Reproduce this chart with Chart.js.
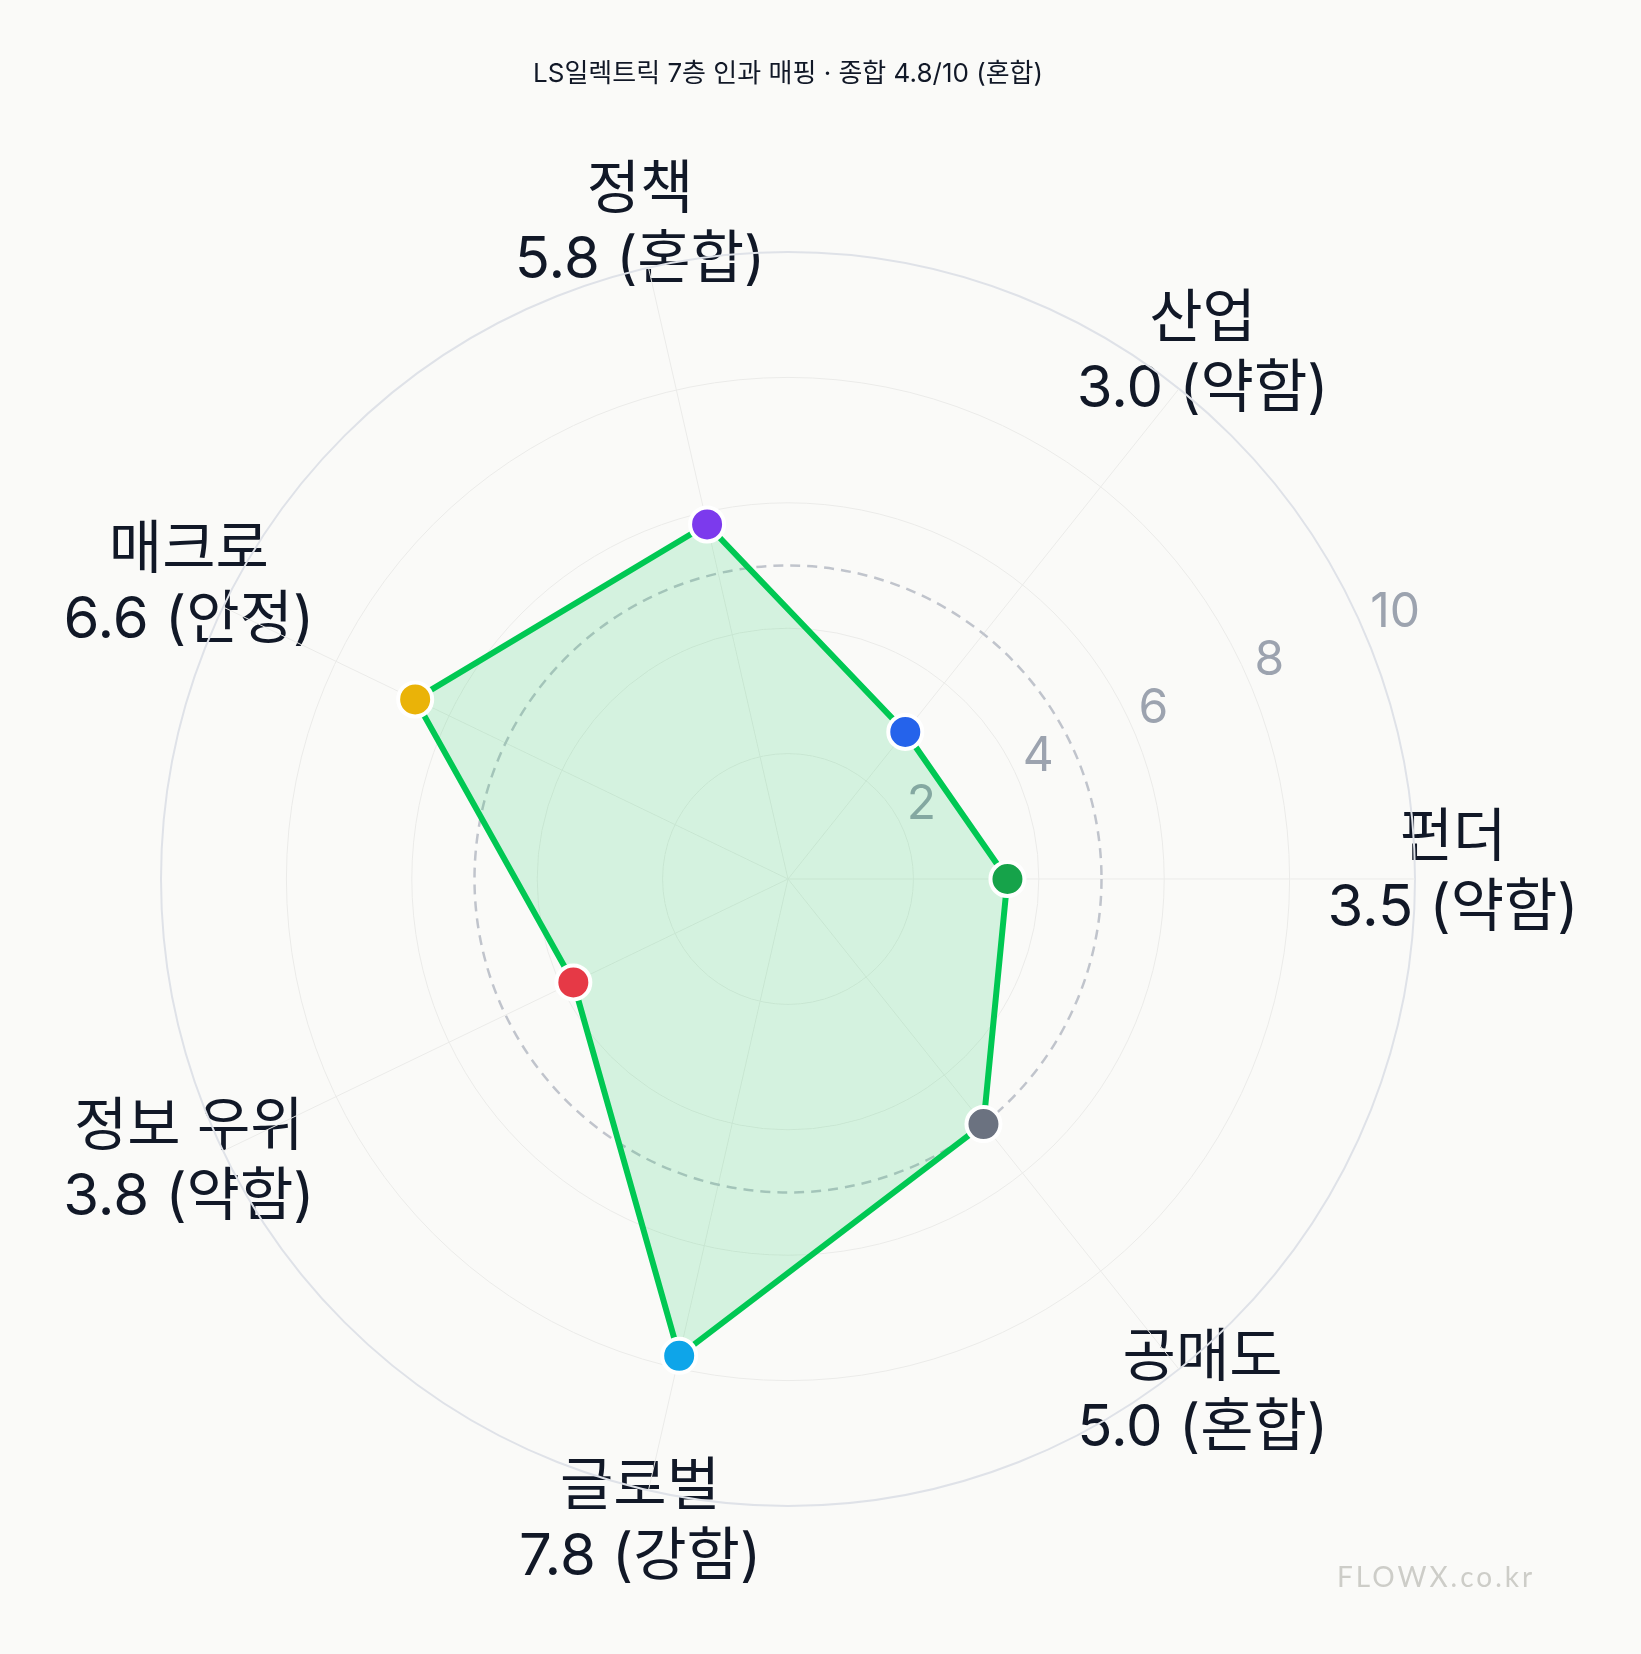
<!DOCTYPE html>
<html><head><meta charset="utf-8">
<script src="https://cdn.jsdelivr.net/npm/chart.js@4.4.1/dist/chart.umd.min.js"></script>
<style>
html,body{margin:0;padding:0;background:#fafaf8;}
#wrap{position:relative;width:1641px;height:1654px;overflow:hidden;}
canvas{display:block;}
#wm{position:absolute;left:1337px;top:1559px;font-family:Lato,"DejaVu Sans",sans-serif;font-weight:400;font-size:28px;letter-spacing:3px;color:#cdcdc8;line-height:34px;white-space:nowrap;}
</style></head><body>
<div id="wrap"><canvas id="c" width="1641" height="1654"></canvas><div id="wm">FLOWX.co.kr</div></div>
<script>
const categories = ['펀더', '공매도', '글로벌', '정보 우위', '매크로', '정책', '산업'];
const scores = [3.5, 5.0, 7.8, 3.8, 6.6, 5.8, 3.0];
const verdicts = ['약함', '혼합', '강함', '약함', '안정', '혼합', '약함'];
const pointColors = ['#16a34a', '#6b7280', '#0ea5e9', '#e63946', '#eab308', '#7c3aed', '#2563eb'];
const tickValues = [2, 4, 6, 8, 10];
const thresholdValue = 5;
const titleText = 'LS일렉트릭 7층 인과 매핑 · 종합 4.8/10 (혼합)';

const FONT = 'Inter, "Noto Sans CJK KR", sans-serif';

const pointLabelPlugin = {
  id: 'pointLabelPlugin',
  beforeDraw(chart) {
    const s = chart.scales.r;
    const ctx = chart.ctx;
    ctx.save();
    ctx.font = '400 58px ' + FONT;
    ctx.fillStyle = '#111827';
    ctx.textAlign = 'center';
    ctx.textBaseline = 'middle';
    const lh = 70;
    categories.forEach((c, i) => {
      const p = s.getPointPosition(i, s.drawingArea + 38);
      const lines = [c, scores[i].toFixed(1) + ' (' + verdicts[i] + ')'];
      lines.forEach((t, k) => {
        ctx.fillText(t, p.x, p.y - 5 + (k - 0.5) * lh);
      });
    });
    ctx.restore();
  }
};

const overlayPlugin = {
  id: 'overlayPlugin',
  beforeDatasetsDraw(chart) {
    const s = chart.scales.r;
    const ctx = chart.ctx;
    ctx.save();
    // threshold dashed circle
    ctx.beginPath();
    ctx.setLineDash([10, 7]);
    ctx.lineWidth = 2.5;
    ctx.strokeStyle = '#c0c4cc';
    ctx.arc(s.xCenter, s.yCenter, s.getDistanceFromCenterForValue(thresholdValue), 0, Math.PI * 2);
    ctx.stroke();
    ctx.setLineDash([]);
    // tick labels
    const a = Math.PI / 8;
    ctx.font = '400 48px ' + FONT;
    ctx.fillStyle = '#9ca3af';
    ctx.textAlign = 'left';
    ctx.textBaseline = 'middle';
    tickValues.forEach(v => {
      const r = s.getDistanceFromCenterForValue(v);
      ctx.fillText(String(v), s.xCenter + r * Math.cos(a) + 3, s.yCenter - r * Math.sin(a) - 26);
    });
    ctx.restore();
  }
};

new Chart(document.getElementById('c'), {
  type: 'radar',
  data: {
    labels: categories,
    datasets: [{
      data: scores,
      borderColor: '#00c853',
      borderWidth: 6,
      backgroundColor: 'rgba(0,200,83,0.15)',
      fill: true,
      pointBackgroundColor: pointColors,
      pointBorderColor: '#ffffff',
      pointBorderWidth: 4,
      pointRadius: 17,
      pointHoverRadius: 17
    }]
  },
  options: {
    responsive: false,
    devicePixelRatio: 1,
    animation: false,
    layout: { padding: { left: 160, right: 225, top: 0, bottom: 147 } },
    plugins: {
      legend: { display: false },
      tooltip: { enabled: false },
      title: {
        display: true,
        text: titleText,
        color: '#111827',
        font: { family: FONT, size: 26, weight: 'normal', lineHeight: 1.2 },
        padding: { top: 59, bottom: 161 }
      }
    },
    scales: {
      r: {
        min: 0,
        max: 10,
        startAngle: 90,
        ticks: { display: false, stepSize: 2 },
        pointLabels: { display: false },
        grid: {
          circular: true,
          color: ctx => (ctx.tick && ctx.tick.value === 10) ? '#dfe2e8' : '#ebebe9',
          lineWidth: ctx => (ctx.tick && ctx.tick.value === 10) ? 2 : 1
        },
        angleLines: { color: '#ebebe9', lineWidth: 1 }
      }
    }
  },
  plugins: [pointLabelPlugin, overlayPlugin]
});
</script>
</body></html>
